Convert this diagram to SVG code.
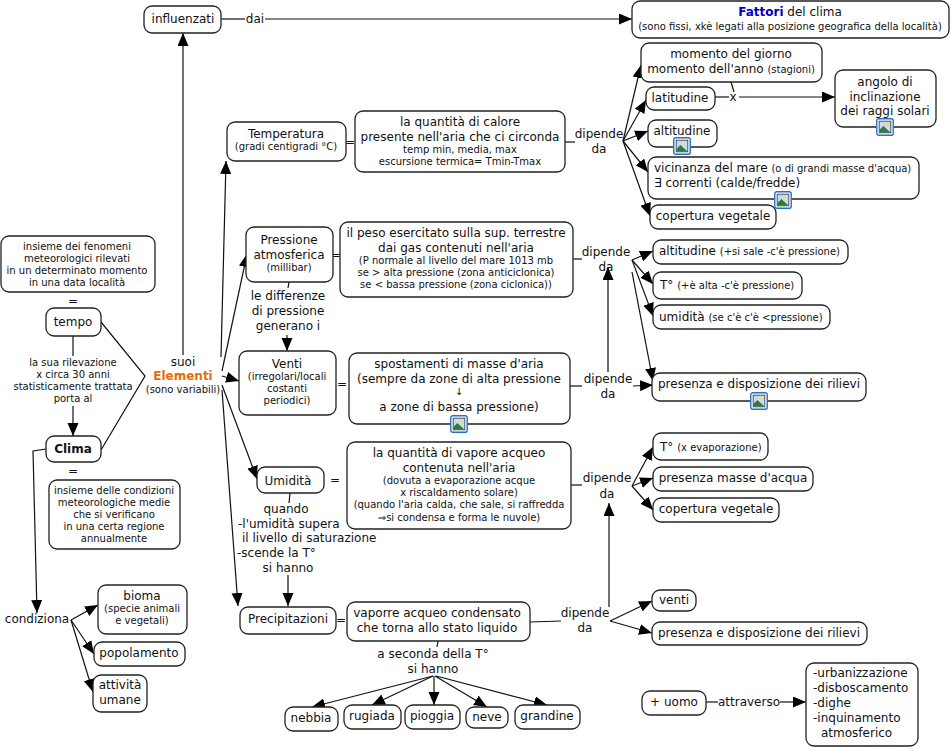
<svg xmlns="http://www.w3.org/2000/svg" xmlns:xlink="http://www.w3.org/1999/xlink" width="951" height="748" viewBox="0 0 951 748">
<style>
text{font-family:"DejaVu Sans",Verdana,sans-serif;font-size:12px;fill:#111;text-anchor:middle}
.s{font-size:10px}
.l{text-anchor:start}
rect.n{fill:#fff;stroke:#222;stroke-width:1.3}
.c line,.c polyline{fill:none;stroke:#111;stroke-width:1.2}
.a{marker-end:url(#ah)}
</style>
<defs>
<marker id="ah" markerUnits="userSpaceOnUse" markerWidth="14" markerHeight="12" refX="13" refY="5.5" orient="auto"><path d="M0 0L13 5.5L0 11Z" fill="#000"/></marker>
<symbol id="pic" viewBox="0 0 17 17" overflow="visible">
<rect x="0.7" y="0.7" width="15.6" height="15.6" rx="2" fill="#fff" stroke="#2a6fc0" stroke-width="1.3"/>
<rect x="3" y="3" width="11" height="11" fill="#c9dcef" stroke="#2b3a55" stroke-width="0.8"/>
<circle cx="11" cy="5.5" r="1.6" fill="#f3dc6a"/>
<path d="M3.4 13.6V11L7 7.5L13.6 13.6Z" fill="#2c7d3b"/>
</symbol>
</defs>
<g class="c" id="connectors">
<line x1="73" y1="336" x2="73" y2="356"/>
<line class="a" x1="73" y1="406" x2="73" y2="436"/>
<polyline points="101,322 145,376 101,450"/>
<line class="a" x1="183" y1="355" x2="183" y2="33"/>
<line class="a" x1="221" y1="357" x2="226" y2="161"/>
<line class="a" x1="222" y1="371" x2="247" y2="254"/>
<line class="a" x1="222" y1="376" x2="239" y2="381"/>
<line class="a" x1="222" y1="385" x2="257" y2="479"/>
<line class="a" x1="222" y1="390" x2="238" y2="606"/>
<line x1="221" y1="19" x2="245" y2="19"/>
<line class="a" x1="265" y1="19" x2="632" y2="19"/>
<line x1="565" y1="142" x2="575" y2="142"/>
<line class="a" x1="623" y1="141" x2="641" y2="65"/>
<line class="a" x1="623" y1="141" x2="646" y2="100"/>
<line class="a" x1="623" y1="141" x2="648" y2="131"/>
<line class="a" x1="623" y1="141" x2="648" y2="172"/>
<line class="a" x1="623" y1="141" x2="650" y2="216"/>
<line x1="731" y1="82" x2="734" y2="92"/>
<line x1="715" y1="97" x2="729" y2="97"/>
<line class="a" x1="739" y1="97" x2="835" y2="97"/>
<line x1="573" y1="259" x2="582" y2="259"/>
<line class="a" x1="632" y1="260" x2="653" y2="251"/>
<line class="a" x1="632" y1="260" x2="653" y2="284"/>
<line class="a" x1="632" y1="260" x2="653" y2="316"/>
<line class="a" x1="632" y1="272" x2="653" y2="381"/>
<line x1="570" y1="386" x2="582" y2="386"/>
<line class="a" x1="608" y1="372" x2="608" y2="267"/>
<line class="a" x1="633" y1="386" x2="653" y2="385"/>
<line x1="571" y1="485" x2="582" y2="485"/>
<line class="a" x1="632" y1="486" x2="653" y2="447"/>
<line class="a" x1="632" y1="486" x2="653" y2="478"/>
<line class="a" x1="632" y1="486" x2="653" y2="510"/>
<line x1="530" y1="622" x2="561" y2="621"/>
<line class="a" x1="609" y1="607" x2="609" y2="503"/>
<line class="a" x1="610" y1="621" x2="652" y2="601"/>
<line class="a" x1="610" y1="621" x2="652" y2="633"/>
<line class="a" x1="287" y1="335" x2="287" y2="351"/>
<line x1="289" y1="282" x2="288" y2="288"/>
<line x1="290" y1="493" x2="289" y2="503"/>
<line class="a" x1="288" y1="575" x2="288" y2="606"/>
<polyline class="a" points="46,449 33,451 37,613"/>
<line class="a" x1="71" y1="620" x2="98" y2="605"/>
<line class="a" x1="71" y1="620" x2="94" y2="654"/>
<line class="a" x1="71" y1="620" x2="93" y2="692"/>
<line x1="438" y1="641" x2="437" y2="647"/>
<line class="a" x1="433" y1="676" x2="312" y2="707"/>
<line class="a" x1="433" y1="676" x2="372" y2="705"/>
<line class="a" x1="434" y1="676" x2="434" y2="705"/>
<line class="a" x1="435" y1="676" x2="487" y2="707"/>
<line class="a" x1="436" y1="676" x2="547" y2="705"/>
<line x1="706" y1="702" x2="718" y2="702"/>
<line class="a" x1="780" y1="702" x2="806" y2="702"/>
</g>
<g id="labels">
<text class="s"><tspan x="73" y="366">la sua rilevazione</tspan><tspan x="73" y="378">x circa 30 anni</tspan><tspan x="73" y="390">statisticamente trattata</tspan><tspan x="73" y="402">porta al</tspan></text>
<text x="73" y="305">=</text>
<text x="73" y="475">=</text>
<text x="183" y="366">suoi</text>
<text x="183" y="380" style="font-weight:bold;fill:#e46c0a">Elementi</text>
<text class="s" x="183" y="393">(sono variabili)</text>
<text x="255" y="23">dai</text>
<text x="350" y="146">=</text>
<text x="336" y="259">=</text>
<text x="342" y="388">=</text>
<text x="335" y="484">=</text>
<text x="341" y="624">=</text>
<text><tspan x="599" y="138">dipende</tspan><tspan x="599" y="153">da</tspan></text>
<text><tspan x="606" y="256">dipende</tspan><tspan x="606" y="271">da</tspan></text>
<text><tspan x="608" y="383">dipende</tspan><tspan x="608" y="398">da</tspan></text>
<text><tspan x="607" y="482">dipende</tspan><tspan x="607" y="498">da</tspan></text>
<text><tspan x="585" y="617">dipende</tspan><tspan x="585" y="632">da</tspan></text>
<text><tspan x="288" y="300">le differenze</tspan><tspan x="288" y="315">di pressione</tspan><tspan x="288" y="330">generano i</tspan></text>
<text class="l"><tspan x="286" y="513" style="text-anchor:middle">quando</tspan><tspan x="238" y="528">-l'umidità supera</tspan><tspan x="242" y="542">il livello di saturazione</tspan><tspan x="237" y="557">-scende la T°</tspan><tspan x="288" y="572" style="text-anchor:middle">si hanno</tspan></text>
<text><tspan x="433" y="658">a seconda della T°</tspan><tspan x="433" y="673">si hanno</tspan></text>
<text x="733" y="101">x</text>
<text x="749" y="706">attraverso</text>
<text x="37" y="623">condiziona</text>
</g>
<g id="influenzati"><rect class="n" x="144" y="6" width="77" height="27" rx="8"/><text x="183" y="23">influenzati</text></g>
<g id="fattori"><rect class="n" x="632" y="1" width="317" height="37" rx="8"/><text x="790" y="16"><tspan style="font-weight:bold;fill:#0000c0">Fattori</tspan> del clima</text><text class="s" x="790" y="30">(sono fissi, xkè legati alla posizione geografica della località)</text></g>
<g id="momento"><rect class="n" x="641" y="43" width="181" height="39" rx="8"/><text x="731" y="58">momento del giorno</text><text x="731" y="73">momento dell'anno <tspan class="s">(stagioni)</tspan></text></g>
<g id="latitudine"><rect class="n" x="646" y="87" width="69" height="23" rx="8"/><text x="680" y="102">latitudine</text></g>
<g id="altitudine"><rect class="n" x="648" y="120" width="69" height="27" rx="8"/><text x="682" y="135">altitudine</text><use xlink:href="#pic" href="#pic" x="673" y="137" width="18" height="18"/></g>
<g id="vicinanza"><rect class="n" x="648" y="157" width="271" height="42" rx="8"/><text class="l" x="654" y="172">vicinanza del mare <tspan class="s">(o di grandi masse d'acqua)</tspan></text><text class="l" x="654" y="187">∃ correnti (calde/fredde)</text><use xlink:href="#pic" href="#pic" x="774" y="191" width="18" height="18"/></g>
<g id="copertura1"><rect class="n" x="650" y="205" width="126" height="24" rx="8"/><text x="713" y="220">copertura vegetale</text></g>
<g id="angolo"><rect class="n" x="835" y="70" width="101" height="57" rx="8"/><text x="885" y="86">angolo di</text><text x="885" y="101">inclinazione</text><text x="885" y="115">dei raggi solari</text><use xlink:href="#pic" href="#pic" x="876" y="118" width="18" height="18"/></g>
<g id="temperatura"><rect class="n" x="227" y="122" width="119" height="39" rx="8"/><text x="286" y="138">Temperatura</text><text class="s" x="286" y="150">(gradi centigradi °C)</text></g>
<g id="calore"><rect class="n" x="355" y="111" width="210" height="61" rx="8"/><text x="460" y="126">la quantità di calore</text><text x="460" y="141">presente nell'aria che ci circonda</text><text class="s" x="460" y="153">temp min, media, max</text><text class="s" x="460" y="165">escursione termica= Tmin-Tmax</text></g>
<g id="pressione"><rect class="n" x="246" y="227" width="87" height="55" rx="8"/><text x="289" y="244">Pressione</text><text x="289" y="259">atmosferica</text><text class="s" x="289" y="271">(millibar)</text></g>
<g id="peso"><rect class="n" x="340" y="222" width="233" height="75" rx="8"/><text x="456" y="237">il peso esercitato sulla sup. terrestre</text><text x="456" y="252">dai gas contenuti nell'aria</text><text class="s" x="456" y="264">(P normale al livello del mare 1013 mb</text><text class="s" x="456" y="276">se &gt; alta pressione (zona anticiclonica)</text><text class="s" x="456" y="288">se &lt; bassa pressione (zona ciclonica))</text></g>
<g id="venti"><rect class="n" x="239" y="351" width="97" height="64" rx="8"/><text x="287" y="368">Venti</text><text class="s" x="287" y="380">(irregolari/locali</text><text class="s" x="287" y="392">costanti</text><text class="s" x="287" y="404">periodici)</text></g>
<g id="spostamenti"><rect class="n" x="349" y="353" width="221" height="71" rx="8"/><text x="459" y="368">spostamenti di masse d'aria</text><text x="459" y="383">(sempre da zone di alta pressione</text><text class="s" x="459" y="395">↓</text><text x="459" y="411">a zone di bassa pressione)</text><use xlink:href="#pic" href="#pic" x="450" y="415" width="18" height="18"/></g>
<g id="umidita"><rect class="n" x="257" y="467" width="67" height="26" rx="8"/><text x="288" y="485">Umidità</text></g>
<g id="vapore"><rect class="n" x="347" y="442" width="224" height="87" rx="8"/><text x="459" y="457">la quantità di vapore acqueo</text><text x="459" y="472">contenuta nell'aria</text><text class="s" x="459" y="484">(dovuta a evaporazione acque</text><text class="s" x="459" y="496">x riscaldamento solare)</text><text class="s" x="459" y="508">(quando l'aria calda, che sale, si raffredda</text><text class="s" x="459" y="521">⇒si condensa e forma le nuvole)</text></g>
<g id="precipitazioni"><rect class="n" x="240" y="607" width="96" height="27" rx="8"/><text x="288" y="623">Precipitazioni</text></g>
<g id="vaporre"><rect class="n" x="347" y="602" width="183" height="39" rx="8"/><text x="437" y="617">vaporre acqueo condensato</text><text x="437" y="632">che torna allo stato liquido</text></g>
<g id="nebbia"><rect class="n" x="285" y="707" width="53" height="24" rx="8"/><text x="311" y="722">nebbia</text></g>
<g id="rugiada"><rect class="n" x="344" y="705" width="57" height="24" rx="8"/><text x="372" y="720">rugiada</text></g>
<g id="pioggia"><rect class="n" x="405" y="705" width="55" height="24" rx="8"/><text x="432" y="720">pioggia</text></g>
<g id="neve"><rect class="n" x="466" y="707" width="42" height="21" rx="8"/><text x="487" y="721">neve</text></g>
<g id="grandine"><rect class="n" x="515" y="705" width="65" height="24" rx="8"/><text x="547" y="720">grandine</text></g>
<g id="venti2"><rect class="n" x="652" y="590" width="44" height="21" rx="8"/><text x="674" y="604">venti</text></g>
<g id="rilievi2"><rect class="n" x="652" y="622" width="215" height="23" rx="8"/><text x="759" y="637">presenza e disposizione dei rilievi</text></g>
<g id="uomo"><rect class="n" x="642" y="691" width="64" height="24" rx="8"/><text x="674" y="706">+ uomo</text></g>
<g id="urbanizzazione"><rect class="n" x="806" y="663" width="112" height="83" rx="8"/><text class="l" x="813" y="677">-urbanizzazione</text><text class="l" x="813" y="692">-disboscamento</text><text class="l" x="813" y="707">-dighe</text><text class="l" x="813" y="722">-inquinamento</text><text class="l" x="821" y="737">atmosferico</text></g>
<g id="altitudine2"><rect class="n" x="653" y="240" width="195" height="24" rx="8"/><text class="l" x="659" y="255">altitudine <tspan class="s">(+si sale -c'è pressione)</tspan></text></g>
<g id="t1"><rect class="n" x="653" y="272" width="149" height="27" rx="8"/><text class="l" x="660" y="289">T° <tspan class="s">(+è alta -c'è pressione)</tspan></text></g>
<g id="umidita2"><rect class="n" x="653" y="305" width="177" height="24" rx="8"/><text class="l" x="659" y="321">umidità <tspan class="s">(se c'è c'è &lt;pressione)</tspan></text></g>
<g id="rilievi"><rect class="n" x="652" y="373" width="214" height="28" rx="8"/><text x="759" y="388">presenza e disposizione dei rilievi</text><use xlink:href="#pic" href="#pic" x="750" y="392" width="18" height="18"/></g>
<g id="t2"><rect class="n" x="653" y="433" width="115" height="27" rx="8"/><text class="l" x="660" y="451">T° <tspan class="s">(x evaporazione)</tspan></text></g>
<g id="masse"><rect class="n" x="653" y="467" width="160" height="24" rx="8"/><text x="733" y="482">presenza masse d'acqua</text></g>
<g id="copertura2"><rect class="n" x="653" y="498" width="126" height="24" rx="8"/><text x="716" y="513">copertura vegetale</text></g>
<g id="fenomeni"><rect class="n" x="1" y="236" width="154" height="56" rx="8"/><text class="s" x="77" y="250">insieme dei fenomeni</text><text class="s" x="77" y="262">meteorologici rilevati</text><text class="s" x="77" y="274">in un determinato momento</text><text class="s" x="77" y="286">in una data località</text></g>
<g id="tempo"><rect class="n" x="46" y="308" width="55" height="28" rx="8"/><text x="73" y="326">tempo</text></g>
<g id="clima"><rect class="n" x="46" y="436" width="55" height="26" rx="8"/><text x="73" y="453" style="font-weight:bold">Clima</text></g>
<g id="condizioni"><rect class="n" x="49" y="480" width="131" height="69" rx="8"/><text class="s" x="114" y="494">insieme delle condizioni</text><text class="s" x="114" y="506">meteorologiche medie</text><text class="s" x="114" y="518">che si verificano</text><text class="s" x="114" y="530">in una certa regione</text><text class="s" x="114" y="542">annualmente</text></g>
<g id="bioma"><rect class="n" x="98" y="585" width="89" height="49" rx="8"/><text x="142" y="600">bioma</text><text class="s" x="142" y="612">(specie animali</text><text class="s" x="142" y="624">e vegetali)</text></g>
<g id="popolamento"><rect class="n" x="94" y="642" width="91" height="24" rx="8"/><text x="139" y="657">popolamento</text></g>
<g id="attivita"><rect class="n" x="93" y="675" width="54" height="37" rx="8"/><text x="120" y="689">attività</text><text x="120" y="704">umane</text></g>
</svg>
